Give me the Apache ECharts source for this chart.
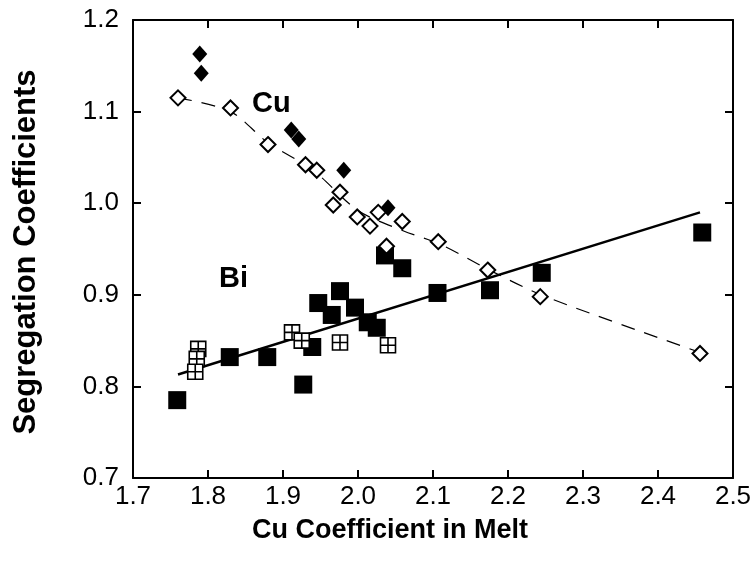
<!DOCTYPE html>
<html>
<head>
<meta charset="utf-8">
<script src="https://cdn.jsdelivr.net/npm/echarts@6/dist/echarts.min.js"></script>
<style>
  html, body { margin: 0; padding: 0; background: #fff; }
  #chart { width: 755px; height: 562px; }
</style>
</head>
<body>
<div id="chart"></div>
<script>
// Cu, open diamonds
var cuOpen = [
    [1.76, 1.115], [1.83, 1.104], [1.88, 1.064], [1.93, 1.042], [1.945, 1.036],
    [1.976, 1.012], [1.967, 0.998], [1.999, 0.985], [2.016, 0.975], [2.027, 0.990],
    [2.038, 0.953], [2.059, 0.980], [2.107, 0.958], [2.173, 0.927], [2.243, 0.898],
    [2.456, 0.836]
];
// Cu, filled diamonds
var cuFilled = [
    [1.789, 1.163], [1.791, 1.142], [1.911, 1.080], [1.921, 1.070], [1.981, 1.036],
    [2.040, 0.995]
];
// dashed curve through Cu
var cuCurve = [
    [1.76, 1.115], [1.83, 1.100], [1.88, 1.066], [1.94, 1.036], [2.0, 0.992],
    [2.06, 0.970], [2.11, 0.955], [2.18, 0.925], [2.25, 0.898], [2.46, 0.836]
];
// Bi, filled squares
var biFilled = [
    [1.759, 0.785], [1.829, 0.832], [1.879, 0.832], [1.927, 0.802], [1.939, 0.843],
    [1.947, 0.891], [1.965, 0.878], [1.976, 0.904], [1.996, 0.886], [2.013, 0.870],
    [2.025, 0.864], [2.036, 0.943], [2.059, 0.929], [2.106, 0.902], [2.176, 0.905],
    [2.245, 0.924], [2.459, 0.968]
];
// Bi, hatched squares
var biHatched = [
    [1.787, 0.841], [1.785, 0.830], [1.783, 0.816], [1.912, 0.859], [1.925, 0.850],
    [1.976, 0.848], [2.040, 0.845]
];
// straight fit through Bi
var biFit = [[1.76, 0.813], [2.456, 0.990]];

var xTicks = [1.7, 2.5, 0.1];
var yTicks = [0.7, 1.2, 0.1];

var font = 'Liberation Sans, Arial, sans-serif';
var hatchPath = 'path://M0,0H12V12H0Z M6,0V12 M0,6H12';

var chart = echarts.init(document.getElementById('chart'));

function axisX(pos, showLabel) {
    return {
        type: 'value', position: pos, min: xTicks[0], max: xTicks[1], interval: xTicks[2],
        axisLine: { show: true, onZero: false, lineStyle: { color: '#000', width: 2 } },
        axisTick: { show: true, inside: true, length: 8, lineStyle: { color: '#000', width: 2 } },
        axisLabel: {
            show: showLabel, color: '#000', fontFamily: font, fontSize: 26, margin: 6,
            formatter: function (v) { return v.toFixed(1); }
        },
        splitLine: { show: false }
    };
}
function axisY(pos, showLabel) {
    return {
        type: 'value', position: pos, min: yTicks[0], max: yTicks[1], interval: yTicks[2],
        axisLine: { show: true, onZero: false, lineStyle: { color: '#000', width: 2 } },
        axisTick: { show: true, inside: true, length: 8, lineStyle: { color: '#000', width: 2 } },
        axisLabel: {
            show: showLabel, color: '#000', fontFamily: font, fontSize: 26, margin: 14,
            formatter: function (v) { return v.toFixed(1); }
        },
        splitLine: { show: false }
    };
}

var option = {
    backgroundColor: '#fff',
    animation: false,
    grid: { left: 133, right: 22, top: 20, bottom: 84 },
    xAxis: [axisX('bottom', true), axisX('top', false)],
    yAxis: [axisY('left', true), axisY('right', false)],
    graphic: [
        { type: 'text', x: 390, y: 531, style: { text: 'Cu Coefficient in Melt', font: 'bold 27px ' + font, fill: '#000', textAlign: 'center', textVerticalAlign: 'middle' } },
        { type: 'text', x: 26, y: 252, rotation: Math.PI / 2, style: { text: 'Segregation Coefficients', font: 'bold 31px ' + font, fill: '#000', textAlign: 'center', textVerticalAlign: 'middle' } },
        { type: 'text', x: 252, y: 104, style: { text: 'Cu', font: 'bold 29px ' + font, fill: '#000', textVerticalAlign: 'middle' } },
        { type: 'text', x: 219, y: 279, style: { text: 'Bi', font: 'bold 29px ' + font, fill: '#000', textVerticalAlign: 'middle' } }
    ],
    series: [
        {
            type: 'line', data: cuCurve, symbol: 'none', smooth: 0.3, z: 1,
            lineStyle: { color: '#000', width: 1.2, type: [14, 10] }
        },
        {
            type: 'line', data: biFit, symbol: 'none', z: 1,
            lineStyle: { color: '#000', width: 2.5 }
        },
        {
            type: 'scatter', data: biFilled, symbol: 'rect', symbolSize: 18, z: 2,
            itemStyle: { color: '#000', opacity: 1 }
        },
        {
            type: 'scatter', data: biHatched, symbol: hatchPath, symbolSize: 15, z: 3,
            itemStyle: { color: '#fff', borderColor: '#000', borderWidth: 1.6, opacity: 1 }
        },
        {
            type: 'scatter', data: cuFilled, symbol: 'diamond', symbolSize: [15, 17], z: 2,
            itemStyle: { color: '#000', opacity: 1 }
        },
        {
            type: 'scatter', data: cuOpen, symbol: 'diamond', symbolSize: [15, 15], z: 4,
            itemStyle: { color: '#fff', borderColor: '#000', borderWidth: 2, opacity: 1 }
        }
    ]
};
chart.setOption(option);
</script>
</body>
</html>
